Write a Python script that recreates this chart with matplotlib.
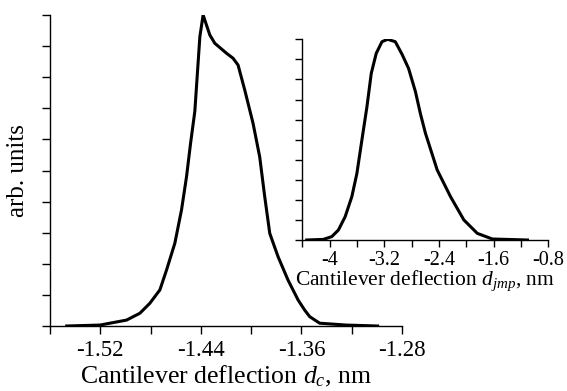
import numpy as np
import matplotlib
matplotlib.use("Agg")
import matplotlib.pyplot as plt

plt.rcParams['font.family'] = ['Liberation Serif', 'DejaVu Serif']
plt.rcParams['mathtext.fontset'] = 'custom'
plt.rcParams['mathtext.rm'] = 'Liberation Serif'
plt.rcParams['mathtext.it'] = 'Liberation Serif:italic'

# Main histogram (deflection d_c)
main_x = [-1.5467, -1.5203, -1.4991, -1.4885, -1.4806, -1.4726, -1.4673, -1.4607, -1.4554,
          -1.4514, -1.4482, -1.4448, -1.4408, -1.4382, -1.4329, -1.4289, -1.4196, -1.4144,
          -1.4104, -1.4051, -1.3985, -1.3932, -1.3892, -1.3852, -1.3786, -1.3707, -1.3627,
          -1.3574, -1.3534, -1.3455, -1.3243, -1.2994]
main_y = [0.0, 0.03, 0.19, 0.41, 0.73, 1.16, 1.80, 2.66, 3.73,
          4.80, 5.87, 6.90, 9.30, 10.0, 9.36, 9.09, 8.77, 8.61,
          8.39, 7.59, 6.52, 5.44, 4.16, 2.98, 2.23, 1.48, 0.84,
          0.51, 0.30, 0.09, 0.03, 0.0]

# Inset histogram (deflection d_jmp)
ins_x = [-4.335, -4.092, -3.968, -3.871, -3.773, -3.675, -3.601, -3.528, -3.454, -3.391,
         -3.318, -3.234, -3.152, -3.039, -2.940, -2.845, -2.745, -2.672, -2.598, -2.426,
         -2.231, -2.036, -1.839, -1.619, -1.105]
ins_y = [0.0, 0.03, 0.17, 0.50, 1.16, 2.16, 3.32, 4.98, 6.64, 8.30,
         9.30, 9.88, 10.0, 9.88, 9.25, 8.55, 7.40, 6.30, 5.32, 3.49,
         2.16, 1.00, 0.33, 0.05, 0.0]

main_ticks = [-1.56, -1.52, -1.48, -1.44, -1.40, -1.36, -1.32, -1.28]
main_labels = ['', '-1.52', '', '-1.44', '', '-1.36', '', '-1.28']
ins_ticks = [-4.4, -4.0, -3.6, -3.2, -2.8, -2.4, -2.0, -1.6, -1.2, -0.8]
ins_labels = ['', '-4', '', '-3.2', '', '-2.4', '', '-1.6', '', '-0.8']

W, H = 567, 391
fig = plt.figure(figsize=(W / 100, H / 100), dpi=100)

def rect(l, r, t, b):
    return [l / W, 1 - b / H, (r - l) / W, (b - t) / H]

ax = fig.add_axes(rect(50, 402, 15, 326))
ax.plot(main_x, main_y, color='black', lw=2.2, solid_joinstyle='round')
ax.set_xlim(-1.56, -1.28)
ax.set_ylim(0, 10)
ax.set_xticks(main_ticks)
ax.set_xticklabels(main_labels)
ax.set_yticks(range(11))
ax.set_yticklabels([])
for s in ['top', 'right']:
    ax.spines[s].set_visible(False)
for s in ['left', 'bottom']:
    ax.spines[s].set_linewidth(1.0)
ax.tick_params(direction='out', length=6, width=1.0, labelsize=16.5, pad=4)
ax.set_xlabel('Cantilever deflection $d_c$, nm', fontsize=18.5, labelpad=2)
ax.set_ylabel('arb. units', fontsize=18, labelpad=5)
ax.patch.set_visible(False)

ia = fig.add_axes(rect(302.3, 548.3, 39.3, 240))
ia.plot(ins_x, ins_y, color='black', lw=2.2)
ia.set_xlim(-4.4, -0.8)
ia.set_ylim(0, 10)
ia.set_xticks(ins_ticks)
ia.set_xticklabels(ins_labels)
ia.set_yticks(range(11))
ia.set_yticklabels([])
for s in ['top', 'right']:
    ia.spines[s].set_visible(False)
for s in ['left', 'bottom']:
    ia.spines[s].set_linewidth(1.0)
ia.tick_params(direction='out', length=5, width=1.0, labelsize=14.5, pad=3)
ia.set_xlabel('Cantilever deflection $d_{jmp}$, nm', fontsize=15.5, labelpad=-1)
ia.patch.set_visible(False)

fig.savefig('out.png', dpi=100)
